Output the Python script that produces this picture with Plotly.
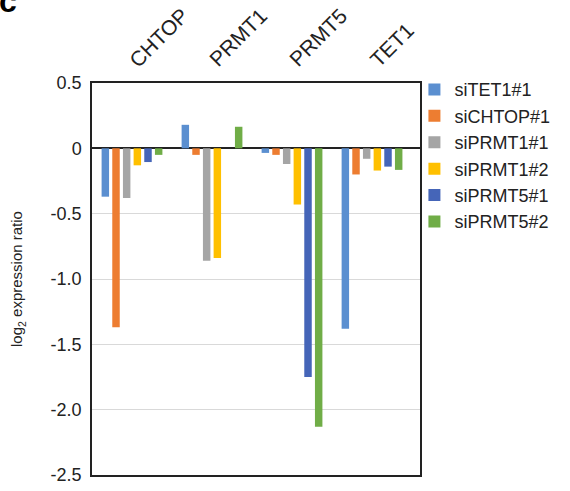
import plotly.graph_objects as go

genes = ["CHTOP", "PRMT1", "PRMT5", "TET1"]
series_names = ["siTET1#1", "siCHTOP#1", "siPRMT1#1", "siPRMT1#2", "siPRMT5#1", "siPRMT5#2"]
siTET1_1 = [-0.37, 0.18, -0.035, -1.38]
siCHTOP_1 = [-1.37, -0.05, -0.05, -0.20]
siPRMT1_1 = [-0.38, -0.86, -0.12, -0.08]
siPRMT1_2 = [-0.13, -0.84, -0.43, -0.17]
siPRMT5_1 = [-0.105, 0.0, -1.75, -0.14]
siPRMT5_2 = [-0.05, 0.165, -2.13, -0.165]
series_values = [siTET1_1, siCHTOP_1, siPRMT1_1, siPRMT1_2, siPRMT5_1, siPRMT5_2]
colors = ["#5B8FD0", "#ED7D31", "#A5A5A5", "#FFC000", "#4565B8", "#70AD47"]

y_tickvals = [0.5, 0, -0.5, -1.0, -1.5, -2.0, -2.5]
y_ticktext = ["0.5", "0", "-0.5", "-1.0", "-1.5", "-2.0", "-2.5"]

fig = go.Figure()
for name, vals, c in zip(series_names, series_values, colors):
    fig.add_trace(go.Bar(x=genes, y=vals, name=name, marker=dict(color=c, line=dict(width=0))))

fig.update_layout(
    width=570, height=491,
    paper_bgcolor="white", plot_bgcolor="white",
    barmode="group", bargap=0.2, bargroupgap=0.3,
    margin=dict(l=92, r=150, t=83, b=16, autoexpand=False),
    font=dict(family="Liberation Sans, Arial, sans-serif", size=18, color="#222"),
    legend=dict(x=0.983, y=1.03, xanchor="left", yanchor="top", bgcolor="rgba(0,0,0,0)",
                font=dict(size=18, color="#222"), tracegroupgap=0, itemwidth=30),
    showlegend=True,
)
fig.update_xaxes(side="top", showline=True, linecolor="#222", linewidth=1.5,
                 mirror=True, ticks="", showgrid=False, showticklabels=False, automargin=False)
fig.update_yaxes(range=[-2.5, 0.5], tickvals=y_tickvals, ticktext=y_ticktext,
                 showline=True, linecolor="#222", linewidth=1.5, mirror=True,
                 showgrid=True, gridcolor="#D9D9D9", gridwidth=1,
                 zeroline=True, zerolinecolor="#222", zerolinewidth=1.5,
                 ticks="", tickfont=dict(size=18), ticklabelstandoff=5, automargin=False,
                 title=dict(text="log<sub>2</sub> expression ratio", font=dict(size=15), standoff=24))
for g in genes:
    fig.add_annotation(text=g, x=g, xref="x", y=1, yref="paper", textangle=-45,
                       xanchor="left", yanchor="bottom", xshift=-10, yshift=9,
                       showarrow=False, font=dict(size=21, color="#222"))
fig.add_annotation(text="<b>c</b>", xref="paper", yref="paper", x=-0.29, y=1.157,
                   showarrow=False, font=dict(size=32, color="black"), xanchor="left", yanchor="bottom")
fig.write_html("out.html", config={"displayModeBar": False},
               post_script="document.body.style.margin='0';")
